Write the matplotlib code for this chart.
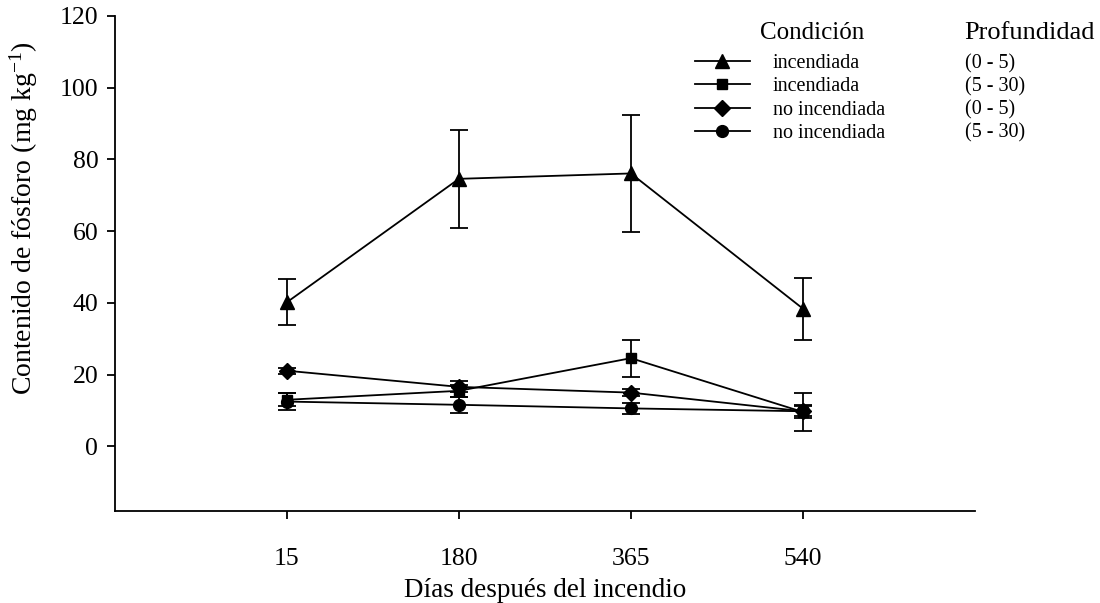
import numpy as np
import matplotlib
matplotlib.use("Agg")
from matplotlib import pyplot as plt

plt.rcParams['font.family'] = ['Liberation Serif', 'DejaVu Serif']
plt.rcParams['mathtext.fontset'] = 'custom'
plt.rcParams['mathtext.rm'] = 'Liberation Serif'
plt.rcParams['mathtext.it'] = 'Liberation Serif:italic'

days = ['15', '180', '365', '540']

cond = ['incendiada', 'incendiada', 'no incendiada', 'no incendiada']
depth = ['(0 - 5)', '(5 - 30)', '(0 - 5)', '(5 - 30)']
markers = ['^', 's', 'D', 'o']
msizes = [10, 7.5, 8, 8.5]

inc_0_5 = [40.2, 74.6, 76.1, 38.4]
inc_0_5_err = [6.4, 13.6, 16.3, 8.6]
inc_5_30 = [13.0, 15.5, 24.6, 9.6]
inc_5_30_err = [1.8, 1.6, 5.2, 5.3]
no_0_5 = [21.1, 16.6, 15.0, 9.8]
no_0_5_err = [0.8, 1.5, 1.0, 1.4]
no_5_30 = [12.5, 11.6, 10.6, 9.8]
no_5_30_err = [2.4, 2.3, 1.6, 1.8]

series = [inc_0_5, inc_5_30, no_0_5, no_5_30]
errors = [inc_0_5_err, inc_5_30_err, no_0_5_err, no_5_30_err]

tickSize = 18.5

fig = plt.figure(figsize=(11, 6.03), dpi=100)
ax = fig.add_axes([0.1045, 0.1526, 0.7818, 0.8209])

x = np.arange(len(days))
handles = []
for vals, err, m, ms in zip(series, errors, markers, msizes):
    h = ax.errorbar(x, vals, yerr=err, marker=m, markersize=ms, color='k',
                    linewidth=1.3, elinewidth=1.3, capsize=6.5, capthick=1.3)
    handles.append(h.lines[0])

ax.set_xlim(-1, 4)
ax.set_ylim(-18, 120)
ax.set_xticks(x)
ax.set_xticklabels(days)
ax.set_yticks([0, 20, 40, 60, 80, 100, 120])

for s in ['top', 'right']:
    ax.spines[s].set_visible(False)
for s in ['left', 'bottom']:
    ax.spines[s].set_linewidth(1.3)

ax.tick_params(axis='x', labelsize=tickSize, pad=21, length=6, width=1.3)
ax.tick_params(axis='y', labelsize=tickSize, pad=6, length=6, width=1.3)

ax.set_xlabel('Días después del incendio', fontsize=19.5, va='center')
ax.xaxis.set_label_coords(0.5, -0.16)
ax.set_ylabel('Contenido de fósforo (mg kg$^{-1}$)', fontsize=20)
ax.yaxis.set_label_coords(-0.087, 0.592)

leg = fig.legend(handles, cond, loc='upper left', bbox_to_anchor=(0.632, 0.911),
                 frameon=False, fontsize=14.5, handlelength=2.7, handletextpad=1.15,
                 labelspacing=0.22, borderpad=0, borderaxespad=0)

fig.text(0.691, 0.945, 'Condición', fontsize=18, va='center', ha='left')
fig.text(0.877, 0.945, 'Profundidad', fontsize=19, va='center', ha='left')
for i, d in enumerate(depth):
    fig.text(0.877, 0.894 - i * 0.0381, d, fontsize=14.5, va='center', ha='left')

fig.savefig('out.png', dpi=100)
